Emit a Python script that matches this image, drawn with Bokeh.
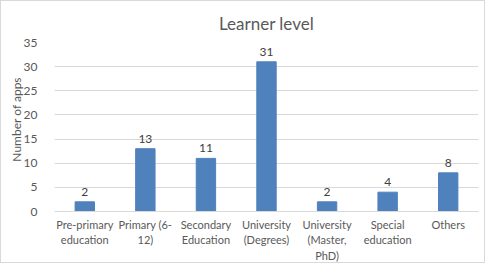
import math
from bokeh.plotting import figure
from bokeh.models import ColumnDataSource, FixedTicker, Range1d, FactorRange
from bokeh.core.properties import value
from bokeh.embed import file_html
from bokeh.resources import INLINE

categories = ["Pre-primary\neducation", "Primary (6-\n12)", "Secondary\nEducation",
              "University\n(Degrees)", "University\n(Master,\nPhD)", "Special\neducation", "Others"]
counts = [2, 13, 11, 31, 2, 4, 8]
y_ticks = [0, 5, 10, 15, 20, 25, 30, 35]

FONT = "Lato"
GRAY = "#595959"

src = ColumnDataSource(dict(cat=categories, n=counts, lbl=[str(v) for v in counts]))

p = figure(x_range=FactorRange(*categories, range_padding=0), y_range=Range1d(0, 35),
           width=485, height=263, output_backend="svg", toolbar_location=None,
           min_border_left=53, min_border_right=8, min_border_top=41, min_border_bottom=53,
           title="Learner level")
p.styles = {"border": "1px solid #d9d9d9"}
p.title.align = "center"
p.title.vertical_align = "top"
p.title.offset = -23
p.title.standoff = 14
p.title.text_font = FONT
p.title.text_font_size = "17px"
p.title.text_font_style = "normal"
p.title.text_color = GRAY

p.vbar(x="cat", top="n", width=0.32, source=src, color="#4f81bd")
p.text(x="cat", y="n", text="lbl", source=src, text_align="center", text_baseline="bottom",
       y_offset=-6, text_font=value(FONT), text_font_size="12px", text_color="#404040")

# pad every category label to three lines so that all of them start at the same height
p.xaxis.major_label_overrides = {c: c + "\n\u00a0" * (3 - c.count("\n") - 1) for c in categories}

p.outline_line_color = None
p.xgrid.grid_line_color = None
p.ygrid.grid_line_color = "#d9d9d9"
p.yaxis.ticker = FixedTicker(ticks=y_ticks)
p.yaxis.axis_line_color = None
p.yaxis.major_tick_line_color = None
p.yaxis.minor_tick_line_color = None
p.yaxis.major_label_standoff = 11
p.yaxis.axis_label = "\u00a0" * 5 + "Number of apps"
p.yaxis.axis_label_text_font = FONT
p.yaxis.axis_label_text_font_size = "12px"
p.yaxis.axis_label_text_font_style = "normal"
p.yaxis.axis_label_text_color = GRAY
p.yaxis.axis_label_standoff = -3
for ax in (p.xaxis, p.yaxis):
    ax.major_label_text_font = FONT
    ax.major_label_text_color = GRAY
p.yaxis.major_label_text_font_size = "12px"
p.xaxis.major_label_text_font_size = "11px"
p.xaxis.major_label_text_line_height = 1.2
p.xaxis.axis_line_color = "#d9d9d9"
p.xaxis.major_tick_line_color = None
p.xaxis.major_tick_out = 0
p.xaxis.major_label_standoff = 6
p.xaxis.major_label_orientation = "horizontal"

open("out.html", "w").write(file_html(p, INLINE))
